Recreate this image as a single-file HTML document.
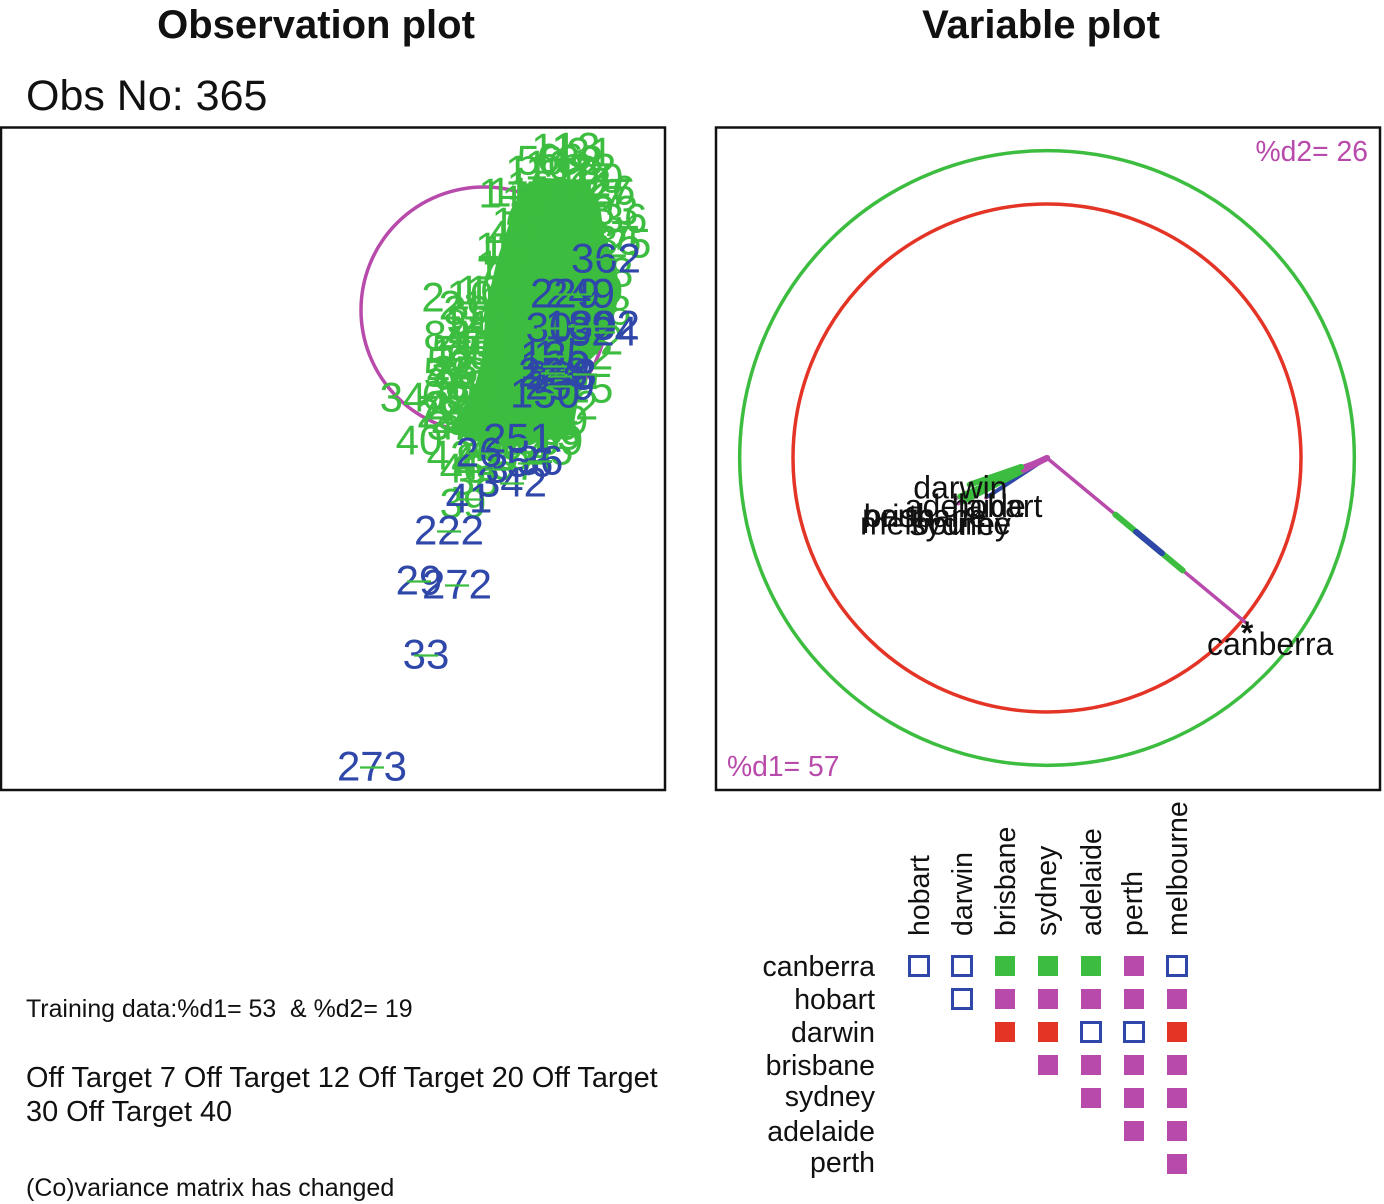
<!DOCTYPE html>
<html lang="en">
<head>
<meta charset="utf-8">
<title>Observation and variable plots</title>
<style>
html,body{margin:0;padding:0;background:#fff;}
svg{display:block;font-family:"Liberation Sans",Arial,sans-serif;}
</style>
</head>
<body>
<svg id="root" xmlns="http://www.w3.org/2000/svg" width="1384" height="1204" viewBox="0 0 1384 1204">
  <rect width="1384" height="1204" fill="#fff"/>
  <text x="316" y="38" font-size="40" font-weight="700" text-anchor="middle" fill="#111">Observation plot</text>
  <text x="1041" y="38" font-size="40" font-weight="700" text-anchor="middle" fill="#111">Variable plot</text>
  <text x="26" y="110" font-size="43" fill="#111">Obs No: 365</text>
  <rect x="1" y="127.500" width="664" height="662.500" fill="none" stroke="#111" stroke-width="2.500"/>
  <rect x="716" y="127.500" width="664" height="662.500" fill="none" stroke="#111" stroke-width="2.500"/>
  <g id="obs"></g>
  <g id="vars"></g>
  <text x="1368" y="161" font-size="28.300" text-anchor="end" fill="#b84aab">%d2= 26</text>
  <text x="727" y="776" font-size="28.300" fill="#b84aab">%d1= 57</text>
  <g id="matrix"></g>
  <text x="26" y="1017" font-size="24.900" fill="#111" xml:space="preserve">Training data:%d1= 53  &amp; %d2= 19</text>
  <text x="26" y="1087" font-size="28.900" fill="#111">Off Target 7 Off Target 12 Off Target 20 Off Target</text>
  <text x="26" y="1121" font-size="28.900" fill="#111">30 Off Target 40</text>
  <text x="26" y="1196" font-size="25" fill="#111">(Co)variance matrix has changed</text>
</svg>
<script>
// ---------- Observation plot data (score units) ----------
const unitCircleRadius = 12.3;
const denseRegionD1 = [3.8,6.1,10.1,11.6,12,13.1,13.6,12.8,11.6,10.1,9.4,8.8,2.6,-1.4,-3.6,-2.2,-0.9,-0.2,0.1,0.6,1.3,2.4];
const denseRegionD2 = [12.5,13.2,13,10.5,7.5,4.8,2,-1.5,-4,-5.5,-9,-12.5,-13.8,-13,-12,-10.3,-7.5,-5,-1,2,5,8.3];
const greenIds = [
  "11","13","31","11","10","12","22","92","17","27",
  "36","25","35","1","11","16","19","18","15","11",
  "14","17","2","21","16","3","10","14","8","4",
  "41","13","5","5","52","26","31","27","9","34",
  "2","24","36","28","37","40","1","42","45","46",
  "38","39","45","15","15","25","22","28","29","52",
  "58","66","83","90","26","33","87","68","55","63",
  "48","53","69","35","86","79","44","98","77","38",
  "99","74","41","71","85","60","78","65","59","49",
  "82","47","93","57","64"
];
const greenD1 = [
  6.9,9.3,10.6,4.3,6.4,9.1,10.9,10.4,11.6,12.4,
  14,14.4,13.4,0.6,2.6,4.6,4.1,3.1,2.1,1.3,
  1.6,0.6,-5.1,-2.2,-0.4,-2.9,-1.4,-1.9,-4.9,-2.4,
  -1.9,-0.6,-0.4,-4.9,-3.4,-2.9,-2.4,-1.2,-3.9,-8.1,
  -5.6,-3.4,-2.4,-1.4,-3.4,-6.5,-4.2,-3.4,-0.9,-2.1,
  -0.9,-2.1,6.6,7.1,7.3,10.6,11.6,12.4,11.6,10.6,
  5.6,7.6,9.6,11.6,12.8,13.1,12.6,12.6,-2.9,-1.4,
  -3.4,-1.9,-3.9,-2.4,-0.9,-4.4,-2.9,-1.4,0.1,-1.4,
  0.6,1.6,2.6,3.9,-0.4,1.6,3.6,5.6,7.6,8.1,
  9.1,-0.4,1.1,3.1,4.6
];
const greenD2 = [
  16.2,16.3,15.8,14,14.5,14,14.2,12.8,11,11.7,
  9.2,6.7,7,11.7,11.8,12.5,11,8.8,6,6.3,
  4.5,2,1.3,0.5,2,0,1.5,-1.5,-2.5,-2.5,
  -3,-3.5,-4,-6.2,-5.2,-6,-7.5,-5.5,-7.5,-8.7,
  -10.3,-9.5,-10.5,-9,-11.5,-13,-4.3,-14.5,-15,-15.8,
  -17,-19.3,-14,-11.5,-12.5,-7.8,-3,0,2,-4.5,
  15,15.2,15,13.2,12,10,7.5,3.8,-4,-4.5,
  -6.2,-6.2,-8.5,-9,-7.5,-10,-11.5,-11,-3,-1,
  0,4,7.5,10,-13.5,-13.5,-13,-12,-13,-11,
  -9.5,-15.5,-14.5,-15.5,-14.5
];
const blueIds = ["362","229","249","30","189","302","324","125","1","228","238","8","129","259","150","251","26","36","56","342","3","41","222","29","272","33","273"];
const blueD1 = [12.2,8.1,9.6,6.5,9.6,12.1,11.9,7.1,6.1,6.9,7.6,10.1,7.1,7.6,6.1,3.4,-0.5,5.6,4.6,2.8,1.3,-1.5,-3.5,-6.5,-2.7,-5.8,-11.2];
const blueD2 = [5.2,1.7,1.7,-1.7,-1.5,-1.5,-2.1,-4.5,-4.5,-6.2,-6.5,-6.3,-5.5,-7.5,-8.3,-12.8,-14.2,-15,-15.2,-17.2,-15.8,-18.8,-22,-27,-27.4,-34.4,-45.6];

// ---------- Variable plot data (correlation units) ----------
const varNames = ["hobart","melbourne","sydney","brisbane","perth","adelaide","darwin","canberra"];
const loadingD1 = [-0.24,-0.35,-0.33,-0.33,-0.36,-0.31,-0.29,0.78];
const loadingD2 = [-0.157,-0.18,-0.17,-0.15,-0.16,-0.15,-0.1,-0.646];
const outerCircleRadius = 1.21;
const innerCircleRadius = 1;

// ---------- Pairwise matrix data ----------
const matrixCols = ["hobart","darwin","brisbane","sydney","adelaide","perth","melbourne"];
const matrixRows = ["canberra","hobart","darwin","brisbane","sydney","adelaide","perth"];
const matrixCodes = [
  ["open","open","green","green","green","magenta","open"],
  ["","open","magenta","magenta","magenta","magenta","magenta"],
  ["","","red","red","open","open","red"],
  ["","","","magenta","magenta","magenta","magenta"],
  ["","","","","magenta","magenta","magenta"],
  ["","","","","","magenta","magenta"],
  ["","","","","","","magenta"]
];

const GREEN = "#3cbd3f", BLUE = "#2e47a8", MAGENTA = "#b84aab", RED = "#e33426", INK = "#111";
const NS = "http://www.w3.org/2000/svg";
function make(parent, tag, attrs, txt) {
  const el = document.createElementNS(NS, tag);
  for (const k in attrs) el.setAttribute(k, attrs[k]);
  if (txt !== undefined) el.textContent = txt;
  parent.appendChild(el);
  return el;
}

// Observation axis functions
const obsX = v => 484 + v * 10;
const obsY = v => 310 - v * 10;
const obsG = document.getElementById("obs");
const OBS_FS = 42;

const circle = make(obsG, "circle", {cx: obsX(0), cy: obsY(0), r: unitCircleRadius * 10, fill: "none", stroke: MAGENTA, "stroke-width": 3.5});



const region = make(obsG, "polygon", {points: denseRegionD1.map((d, i) => obsX(d) + "," + obsY(denseRegionD2[i])).join(" "), fill: GREEN});



function drawObs(ids, d1, d2, color, kind) {
  ids.forEach((id, i) => {
    const px = obsX(d1[i]), py = obsY(d2[i]);
    const t = make(obsG, "text", {x: px, y: py + 14.5, "font-size": OBS_FS, "text-anchor": "middle", fill: color}, id);
    
    
  });
}
function drawStrikes(d1, d2) {
  d1.forEach((d, i) => {
    const px = obsX(d), py = obsY(d2[i]) + 1.5;
    const s = make(obsG, "line", {x1: px - 12, x2: px + 12, y1: py, y2: py, stroke: GREEN, "stroke-width": 2.2});
    
    
  });
}
drawObs(greenIds, greenD1, greenD2, GREEN, "green");
drawObs(blueIds, blueD1, blueD2, BLUE, "blue");
drawStrikes(blueD1, blueD2);

// Variable axis functions
const varX = v => 1047 + v * 254;
const varY = v => 458 - v * 254;
const varG = document.getElementById("vars");

const outer = make(varG, "circle", {cx: varX(0), cy: varY(0), r: outerCircleRadius * 254, fill: "none", stroke: GREEN, "stroke-width": 3.5});


const inner = make(varG, "circle", {cx: varX(0), cy: varY(0), r: innerCircleRadius * 254, fill: "none", stroke: RED, "stroke-width": 3.5});



function segment(i, t0, t1, color, width, name) {
  const s = make(varG, "line", {
    x1: varX(loadingD1[i] * t0), y1: varY(loadingD2[i] * t0),
    x2: varX(loadingD1[i] * t1), y2: varY(loadingD2[i] * t1),
    stroke: color, "stroke-width": width, "stroke-linecap": "round"
  });
  
  
}
varNames.forEach((n, i) => {
  segment(i, 0, 1, MAGENTA, 3.5, n + '-vector');
});
varNames.forEach((n, i) => {
  if (n === "canberra") {
    segment(i, 0.345, 0.685, GREEN, 6, n + '-green-band');
    segment(i, 0.45, 0.58, BLUE, 6, n + '-blue-band');
  } else if (n === "hobart") {
    segment(i, 0, 0.95, BLUE, 4, n + '-blue-band');
  } else if (n === "darwin") {
    segment(i, 0.35, 1.05, GREEN, 6, n + '-green-band');
  } else {
    segment(i, 0.28, 0.95, GREEN, 6, n + '-green-band');
    segment(i, 0, 0.3, MAGENTA, 6, n + '-magenta-band');
  }
});

// Label placement relative to each vector tip (layout only, pixels)
const labelShift = {
  hobart: [11, 19], melbourne: [-22.5, 31], sydney: [-3, 34], brisbane: [-38, 31],
  perth: [-57, 28], adelaide: [-3, 21], darwin: [-13, 15], canberra: [25, 33]
};
varNames.forEach((n, i) => {
  const sh = labelShift[n];
  const t = make(varG, "text", {
    x: varX(loadingD1[i]) + sh[0], y: varY(loadingD2[i]) + sh[1],
    "font-size": 32, "text-anchor": "middle", fill: INK
  }, n);
  
  
});
const star = make(varG, "text", {
  x: varX(loadingD1[7]) + 2, y: varY(loadingD2[7]) + 22,
  "font-size": 32, "font-weight": 700, "text-anchor": "middle", fill: INK
}, "*");



// Matrix axis functions
const matX = j => 919 + j * 43;
const matY = i => 966 + i * 33;
const matG = document.getElementById("matrix");
const fills = {green: GREEN, magenta: MAGENTA, red: RED};
const hasDescender = s => /[py]/.test(s);
matrixCols.forEach((c, j) => {
  const bx = matX(j) + (hasDescender(c) ? 8 : 10), by = 936;
  const t = make(matG, "text", {x: 0, y: 0, transform: "translate(" + bx + "," + by + ") rotate(-90)", "font-size": 28.5, fill: INK}, c);
  
  
});
matrixRows.forEach((r, i) => {
  const t = make(matG, "text", {x: 875, y: matY(i) + (hasDescender(r) ? 8 : 10), "font-size": 28.5, "text-anchor": "end", fill: INK}, r);
  
  
  matrixCodes[i].forEach((code, j) => {
    if (!code) return;
    const open = code === "open";
    const cell = make(matG, "rect", {
      x: matX(j) - (open ? 9.5 : 10), y: matY(i) - (open ? 9.5 : 10),
      width: open ? 19 : 20, height: open ? 19 : 20,
      fill: open ? "none" : fills[code], stroke: open ? BLUE : "none", "stroke-width": open ? 3 : 0
    });
    
    
  });
});
</script>
</body>
</html>
